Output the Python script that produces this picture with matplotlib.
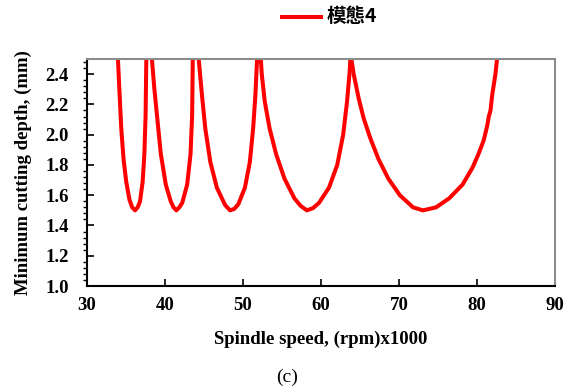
import matplotlib.pyplot as plt
from matplotlib.ticker import MultipleLocator

# points (spindle speed x1000 rpm, depth mm)
lobe1_x = [33.97, 34.19, 34.40, 34.69, 35.03, 35.45, 35.80, 36.17, 36.50, 36.81, 37.14, 37.36, 37.52, 37.61]
lobe1_y = [2.50, 2.26, 2.04, 1.84, 1.69, 1.57, 1.52, 1.50, 1.52, 1.56, 1.69, 1.87, 2.13, 2.50]

lobe2_x = [38.33, 38.63, 39.05, 39.48, 40.11, 40.74, 41.10, 41.46, 41.85, 42.22, 42.85, 43.28, 43.49, 43.57]
lobe2_y = [2.50, 2.31, 2.09, 1.87, 1.67, 1.56, 1.52, 1.50, 1.52, 1.55, 1.67, 1.87, 2.13, 2.50]

lobe3_x = [44.33, 44.75, 45.18, 45.82, 46.66, 47.72, 48.35, 48.90, 49.41, 50.26, 50.89, 51.31, 51.60, 51.82]
lobe3_y = [2.50, 2.26, 2.04, 1.82, 1.65, 1.535, 1.50, 1.51, 1.54, 1.65, 1.82, 2.04, 2.26, 2.50]

lobe4_x = [52.30, 52.42, 52.80, 53.43, 54.27, 55.33, 56.60, 57.40, 58.20, 59.00, 59.77, 61.04,
           62.10, 62.86, 63.36, 63.70, 63.78]
lobe4_y = [2.50, 2.40, 2.22, 2.04, 1.87, 1.71, 1.58, 1.53, 1.50, 1.515, 1.55, 1.65,
           1.80, 2.00, 2.22, 2.42, 2.50]

lobe5_x = [63.91, 64.21, 64.85, 65.48, 66.32, 67.38, 68.65, 70.13, 71.82, 73.09, 74.78, 76.47, 78.17, 79.43,
           80.20, 80.90, 81.34, 81.54, 81.76, 81.97, 82.39, 82.60]
lobe5_y = [2.50, 2.40, 2.24, 2.11, 1.98, 1.84, 1.71, 1.60, 1.52, 1.50, 1.52, 1.58, 1.67, 1.78,
           1.87, 1.965, 2.06, 2.12, 2.16, 2.26, 2.40, 2.50]

lobes = [(lobe1_x, lobe1_y), (lobe2_x, lobe2_y), (lobe3_x, lobe3_y),
         (lobe4_x, lobe4_y), (lobe5_x, lobe5_y)]

plt.rcParams["font.family"] = ["Liberation Serif", "Noto Sans CJK TC"]
plt.rcParams["font.weight"] = "bold"

fig = plt.figure(figsize=(5.67, 3.91), dpi=100)
ax = fig.add_axes([0.1534, 0.2685, 0.825, 0.5805])

for i, (xs, ys) in enumerate(lobes):
    ax.plot(xs, ys, color="#ff0000", lw=2.9, solid_joinstyle="round",
            label="模態4" if i == 0 else None)

ax.set_xlim(30, 90)
ax.set_ylim(1.0, 2.5)
ax.xaxis.set_major_locator(MultipleLocator(10))
ax.yaxis.set_minor_locator(MultipleLocator(0.04))
ax.set_yticks([1.0, 1.2, 1.4, 1.6, 1.8, 2.0, 2.2, 2.4])
ax.yaxis.set_major_formatter(lambda v, p: f"{v:.1f}")
ax.tick_params(direction="in", labelsize=13.5, width=1.2)
ax.tick_params(axis="x", length=5, pad=8)
ax.tick_params(axis="y", which="major", length=5, pad=13)
ax.tick_params(axis="y", which="minor", length=3, width=1.0)

for s in ["left", "bottom"]:
    ax.spines[s].set_color("black")
    ax.spines[s].set_linewidth(1.5)
for s in ["top", "right"]:
    ax.spines[s].set_color("#8c8c8c")
    ax.spines[s].set_linewidth(1.5)

ax.set_xlabel("Spindle speed, (rpm)x1000", fontsize=13.5, fontweight="bold", labelpad=12)
ax.set_ylabel("Minimum cutting depth, (mm)", fontsize=13.5, fontweight="bold", labelpad=10)

leg = fig.legend(loc="center", bbox_to_anchor=(0.581, 0.957), frameon=False,
                 handlelength=2.8, handletextpad=0.45, borderaxespad=0)
for t in leg.get_texts():
    t.set_fontfamily(["Noto Sans CJK TC"])
    t.set_fontweight("bold")
    t.set_fontsize(14)

fig.text(0.507, 0.036, "(c)", ha="center", va="center", fontsize=14, fontweight="normal")

fig.savefig("out.png", dpi=100)
